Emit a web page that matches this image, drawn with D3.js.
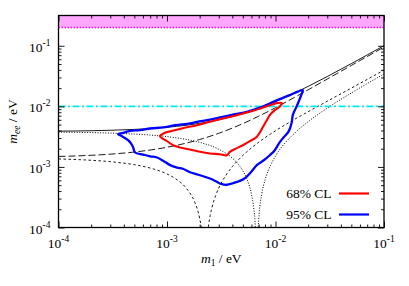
<!DOCTYPE html>
<html><head><meta charset="utf-8">
<script src="https://cdn.jsdelivr.net/npm/d3@7"></script>
<style>body{margin:0;background:#fff}svg{display:block}svg text{font-family:'Liberation Serif','DejaVu Serif',serif !important;fill:#000}</style>
</head><body><svg id="c" width="409" height="286" font-family="Liberation Serif, DejaVu Serif, serif"></svg>
<script>
// ---- data ----
const m1Grid = [1e-4,2e-4,3e-4,5e-4,7e-4,1e-3,1.5e-3,2e-3,3e-3,4e-3,5e-3,6e-3,7e-3,8e-3,1e-2,1.5e-2,2e-2,3e-2,5e-2,7e-2,1e-1];
const meeSolid = [0.003888,0.003956,0.004024,0.004162,0.004301,0.004512,0.004870,0.005237,0.005996,0.006784,0.007599,0.008437,0.009295,0.01017,0.011961,0.016595,0.021355,0.03105,0.050722,0.070546,0.100397];
const meeLongDash = [0.001488,0.001556,0.001624,0.001762,0.001901,0.002111,0.002469,0.002836,0.003591,0.004376,0.005187,0.00602,0.006872,0.00774,0.009513,0.01409,0.018771,0.028251,0.047328,0.066417,0.09503];
const m1ShortDash = [1e-4,2e-4,3e-4,5e-4,7e-4,1e-3,1.2e-3,1.5e-3,1.8e-3,1.9e-3,2e-3,2.1e-3,2.15e-3,2.2e-3,2.237e-3,2.25e-3,2.3e-3,2.4e-3,2.5e-3,2.6e-3,2.8e-3,3e-3,3.5e-3,4e-3,5e-3,6e-3,7e-3,8e-3,1e-2,1.5e-2,2e-2,3e-2,5e-2,7e-2,1e-1];
const meeShortDash = [0.001354,0.001287,0.001220,0.001088,0.000958,0.000764,0.000637,0.000449,0.000264,0.000203,0.000142,0.0000814,0.0000513,0.0000211,0.000001,0.0000088,0.0000386,0.0000982,0.000157,0.000216,0.000333,0.000449,0.000733,0.001011,0.001547,0.002061,0.002556,0.003035,0.003955,0.006113,0.008165,0.012153,0.020012,0.027859,0.03965];
const m1Dotted = [1e-4,2e-4,3e-4,5e-4,7e-4,1e-3,1.5e-3,2e-3,3e-3,4e-3,4.5e-3,5e-3,5.5e-3,6e-3,6.3e-3,6.5e-3,6.7e-3,6.725e-3,6.8e-3,6.9e-3,7e-3,7.5e-3,8e-3,9e-3,1e-2,1.5e-2,2e-2,3e-2,5e-2,7e-2,1e-1];
const meeDotted = [0.003754,0.003687,0.003620,0.003488,0.003358,0.003165,0.002850,0.002544,0.001955,0.001397,0.001128,0.000865,0.000608,0.000356,0.000208,0.0001096,0.0000121,0.000001,0.0000362,0.0000844,0.000132,0.000371,0.000604,0.001062,0.001507,0.003607,0.005581,0.009354,0.016618,0.02373,0.034284];
const blueM1 = [3.54e-4,3.94e-4,4.57e-4,5.64e-4,6.98e-4,9.19e-4,1.185e-3,1.63e-3,1.89e-3,2.49e-3,3.27e-3,4.22e-3,5.44e-3,7.17e-3,8.86e-3,1.095e-2,1.354e-2,1.604e-2,1.783e-2,1.727e-2,1.57e-2,1.443e-2,1.413e-2,1.326e-2,1.192e-2,1.095e-2,9.85e-3,8.86e-3,7.80e-3,6.73e-3,5.93e-3,5.22e-3,4.60e-3,4.05e-3,3.56e-3,3.21e-3,2.82e-3,2.49e-3,2.01e-3,1.63e-3,1.40e-3,1.24e-3,1.07e-3,9.19e-4,8.09e-4,6.98e-4,6.02e-4,5.08e-4,4.87e-4,4.67e-4,4.38e-4,3.85e-4];
const blueMee = [3.47e-3,3.65e-3,3.94e-3,4.04e-3,4.31e-3,4.48e-3,4.89e-3,5.22e-3,5.54e-3,6.03e-3,6.71e-3,7.43e-3,8.11e-3,9.52e-3,1.117e-2,1.315e-2,1.531e-2,1.75e-2,1.853e-2,1.531e-2,1.008e-2,7.15e-3,5.48e-3,3.89e-3,3.10e-3,2.56e-3,1.89e-3,1.56e-3,1.29e-3,1.07e-3,8.17e-4,6.50e-4,5.80e-4,5.38e-4,5.08e-4,5.18e-4,5.80e-4,6.43e-4,7.29e-4,8.17e-4,9.34e-4,9.77e-4,1.07e-3,1.27e-3,1.43e-3,1.50e-3,1.60e-3,1.73e-3,2.12e-3,2.42e-3,2.76e-3,3.22e-3];
const redM1 = [8.62e-4,9.58e-4,1.07e-3,1.40e-3,1.89e-3,2.49e-3,3.27e-3,4.41e-3,5.80e-3,7.17e-3,8.86e-3,1.028e-2,1.143e-2,1.095e-2,9.85e-3,8.86e-3,8.32e-3,7.64e-3,6.73e-3,5.80e-3,5.00e-3,4.31e-3,3.80e-3,3.56e-3,3.07e-3,2.49e-3,2.01e-3,1.63e-3,1.32e-3,1.14e-3,1.00e-3,8.99e-4];
const redMee = [3.22e-3,3.67e-3,3.86e-3,4.36e-3,4.89e-3,5.59e-3,6.31e-3,7.15e-3,8.11e-3,9.16e-3,1.047e-2,1.13e-2,1.138e-2,9.89e-3,8.65e-3,7.15e-3,5.91e-3,4.53e-3,3.16e-3,2.66e-3,2.28e-3,2.00e-3,1.77e-3,1.56e-3,1.62e-3,1.67e-3,1.78e-3,1.94e-3,2.09e-3,2.28e-3,2.66e-3,2.98e-3];
const bandLow = 0.2;
const cyanLevel = 0.01;
const xDomain = [1e-4, 1e-1];
const yDomain = [1e-4, 0.316];
const majorTicks = [1e-4, 1e-3, 1e-2, 1e-1];
const majorExps = ["-4", "-3", "-2", "-1"];
const legendLabels = ["68% CL", "95% CL"];
const legendColors = ["#ff0000", "#0000ff"];

// ---- drawing ----
const FONT = "Liberation Serif, DejaVu Serif, serif";
const svg = d3.select("#c");
const L = 58.5, R = 384, T = 15.5, B = 227.5;
const x = d3.scaleLog().domain(xDomain).range([L, R]);
const y = d3.scaleLog().domain(yDomain).range([B, T]);

svg.append("defs").append("clipPath").attr("id", "clip")
  .append("rect").attr("x", L).attr("y", T).attr("width", R - L).attr("height", B - T);
const plot = svg.append("g").attr("clip-path", "url(#clip)");

// pink excluded band
plot.append("rect").attr("x", L).attr("y", y(yDomain[1])).attr("width", R - L)
  .attr("height", y(bandLow) - y(yDomain[1])).attr("fill", "#ffa6ff");
plot.append("line").attr("x1", L).attr("x2", R).attr("y1", y(bandLow)).attr("y2", y(bandLow))
  .attr("stroke", "#ff00ff").attr("stroke-width", 1.6).attr("stroke-dasharray", "1.5,1.5");

const line = d3.line().x(d => x(d[0])).y(d => y(d[1])).curve(d3.curveMonotoneX);
const zip = (a, b) => a.map((v, i) => [v, b[i]]);
const curves = [
  {xs: m1Grid, ys: meeSolid, dash: null, w: 0.9},
  {xs: m1Grid, ys: meeLongDash, dash: "7,3", w: 0.9},
  {xs: m1ShortDash, ys: meeShortDash, dash: "2.5,2.5", w: 0.9},
  {xs: m1Dotted, ys: meeDotted, dash: "1,1.6", w: 1}
];
curves.forEach(c => {
  plot.append("path").attr("d", line(zip(c.xs, c.ys))).attr("fill", "none")
    .attr("stroke", "#000").attr("stroke-width", c.w)
    .attr("stroke-dasharray", c.dash);
});

// cyan dash-dot line
plot.append("line").attr("x1", L).attr("x2", R).attr("y1", y(cyanLevel)).attr("y2", y(cyanLevel))
  .attr("stroke", "#00e8f0").attr("stroke-width", 1.6).attr("stroke-dasharray", "7,2.5,2,2.5");

// contours
const closed = d3.line().x(d => x(d[0])).y(d => y(d[1])).curve(d3.curveCatmullRomClosed.alpha(0.5));
plot.append("path").attr("d", closed(zip(blueM1, blueMee))).attr("fill", "none")
  .attr("stroke", legendColors[1]).attr("stroke-width", 2.3).attr("stroke-linejoin", "round");
plot.append("path").attr("d", closed(zip(redM1, redMee))).attr("fill", "none")
  .attr("stroke", legendColors[0]).attr("stroke-width", 2.1).attr("stroke-linejoin", "round");

// ticks
function minors(dom) {
  const out = [];
  for (let e = -4; e <= -1; e++) for (let k = 2; k <= 9; k++) {
    const v = k * Math.pow(10, e);
    if (v > dom[0] && v < dom[1] && v < 0.1) out.push(v);
  }
  return out;
}
const xMin = minors(xDomain), yMin = minors(yDomain);
function addAxis(axisFn, scale, vals, size, tr) {
  const g = svg.append("g").attr("transform", tr)
    .call(axisFn(scale).tickValues(vals).tickSize(-size).tickFormat(""));
  g.select(".domain").remove();
  g.selectAll(".tick line").attr("stroke", "#000").attr("stroke-width", 0.9);
}
addAxis(d3.axisBottom, x, majorTicks, 6, `translate(0,${B})`);
addAxis(d3.axisBottom, x, xMin, 3, `translate(0,${B})`);
addAxis(d3.axisTop, x, majorTicks, 6, `translate(0,${T})`);
addAxis(d3.axisTop, x, xMin, 3, `translate(0,${T})`);
addAxis(d3.axisLeft, y, majorTicks, 6, `translate(${L},0)`);
addAxis(d3.axisLeft, y, yMin, 3, `translate(${L},0)`);
addAxis(d3.axisRight, y, majorTicks, 6, `translate(${R},0)`);
addAxis(d3.axisRight, y, yMin, 3, `translate(${R},0)`);

// frame
svg.append("rect").attr("x", L).attr("y", T).attr("width", R - L).attr("height", B - T)
  .attr("fill", "none").attr("stroke", "#000").attr("stroke-width", 1.3);

// tick labels
const txt = (g) => g.append("text").attr("font-family", FONT).attr("font-size", 13.5);
majorTicks.forEach((v, i) => {
  const t = txt(svg).attr("x", x(v)).attr("y", 248).attr("text-anchor", "middle");
  t.append("tspan").text("10");
  t.append("tspan").attr("dy", -6).attr("font-size", 9.5).text(majorExps[i]);
  const u = txt(svg).attr("x", 50.5).attr("y", y(v) + 6).attr("text-anchor", "end");
  u.append("tspan").text("10");
  u.append("tspan").attr("dy", -6).attr("font-size", 9.5).text(majorExps[i]);
});

// axis titles
const xt = txt(svg).attr("x", (L + R) / 2).attr("y", 263).attr("text-anchor", "middle");
xt.append("tspan").attr("font-style", "italic").text("m");
xt.append("tspan").attr("dy", 3).attr("font-size", 9.5).text("1");
xt.append("tspan").attr("dy", -3).text(" / eV");
const yt = txt(svg).attr("transform", `translate(17,${(T + B) / 2}) rotate(-90)`)
  .attr("text-anchor", "middle");
yt.append("tspan").attr("font-style", "italic").text("m");
yt.append("tspan").attr("dy", 3).attr("font-size", 9.5).attr("font-style", "italic").text("ee");
yt.append("tspan").attr("dy", -3).text(" / eV");

// legend
legendLabels.forEach((lab, i) => {
  const yy = 193.5 + i * 21;
  txt(svg).attr("x", 331.5).attr("y", yy + 4.5).attr("text-anchor", "end").text(lab);
  svg.append("line").attr("x1", 339).attr("x2", 369).attr("y1", yy).attr("y2", yy)
    .attr("stroke", legendColors[i]).attr("stroke-width", 2.2);
});
</script></body></html>
